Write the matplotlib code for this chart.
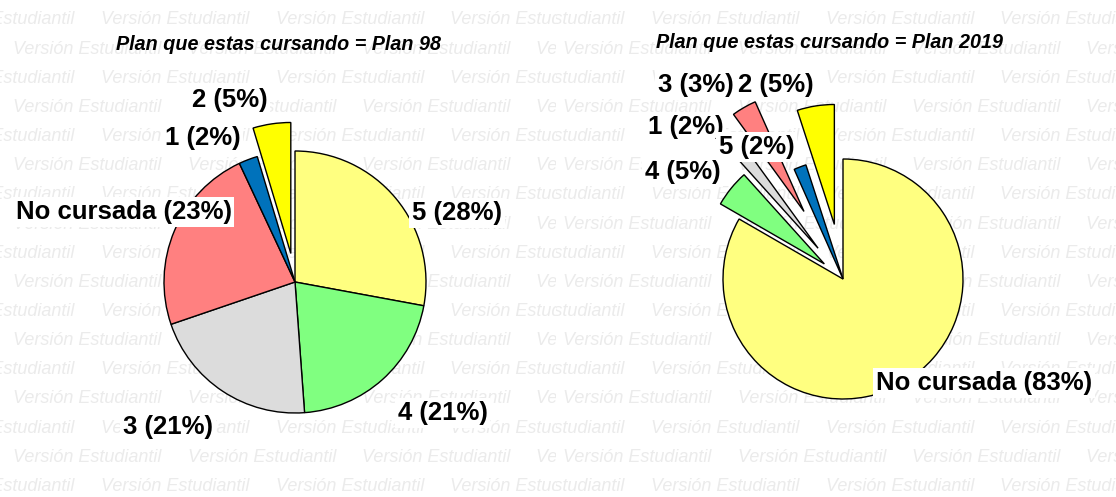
import matplotlib
matplotlib.use('Agg')
import matplotlib.pyplot as plt

plt.rcParams['font.family'] = ['Liberation Sans', 'DejaVu Sans']

W, H = 1116, 497

# --- data -------------------------------------------------------------
cats_98 = ['5', '4', '3', 'No cursada', '1', '2']
counts_98 = [12, 9, 9, 10, 1, 2]
explode_98 = [0, 0, 0, 0, 0, 0.22]

cats_19 = ['No cursada', '4', '5', '3', '1', '2']
counts_19 = [50, 3, 1, 2, 1, 3]
explode_19 = [0, 0.2, 0.33, 0.65, 0, 0.46]

slice_colors = ['#FFFF80', '#80FF80', '#DCDCDC', '#FF8080', '#0072BB', '#FFFF00']

# label centres, in pie radius units from the pie centre
lab_pos_98 = [(1.237, 0.527), (1.126, -1.0), (-0.969, -1.107),
              (-1.309, 0.534), (-0.702, 1.099), (-0.50, 1.389)]
lab_pos_19 = [(1.175, -0.867), (-1.3375, 0.892), (-0.721, 1.10),
              (-1.229, 1.617), (-1.3125, 1.267), (-0.5625, 1.617)]


def watermark(fig, x0, x1, offs_a, offs_b):
    ax = fig.add_axes([x0 / W, 0, (x1 - x0) / W, 1])
    ax.set_xlim(x0, x1)
    ax.set_ylim(H, 0)
    ax.axis('off')
    ax.set_zorder(0)
    step = 174.5
    for k in range(17):
        y = 20 + 29.15 * k
        start = offs_a if k % 2 == 0 else offs_b
        for j in range(-1, 4):
            ax.text(start + step * j, y, 'Versión Estudiantil', ha='left', va='center',
                    fontsize=13, style='italic', color='#EBEBEB', clip_on=True)


def pie_panel(fig, cx, cy, r, cats, counts, explode, lab_pos, title, tx, ty):
    lim = 1.8
    half = r * lim
    ax = fig.add_axes([(cx - half) / W, 1 - (cy + half) / H, 2 * half / W, 2 * half / H])
    ax.set_zorder(2)
    ax.patch.set_visible(False)
    ax.pie(counts, colors=slice_colors, startangle=90, counterclock=False,
           explode=explode, wedgeprops=dict(edgecolor='black', linewidth=1))
    ax.set_xlim(-lim, lim)
    ax.set_ylim(-lim, lim)
    ax.set_aspect('equal')
    ax.axis('off')
    n = sum(counts)
    items = list(zip(cats, counts, lab_pos))
    for c, v, (dx, dy) in items[::-1]:
        ax.text(dx, dy, f'{c} ({round(100 * v / n)}%)', ha='center', va='center',
                fontsize=18.5, fontweight='bold', zorder=5,
                bbox=dict(boxstyle='square,pad=0.1', fc='white', ec='none'))
    fig.text(tx / W, 1 - ty / H, title, ha='center', va='center', fontsize=14.2,
             fontweight='bold', style='italic', zorder=5)


fig = plt.figure(figsize=(W / 100, H / 100), dpi=100)
watermark(fig, 0, 556, 101, 13)
watermark(fig, 556, W, 651, 563)

pie_panel(fig, 295, 282, 131, cats_98, counts_98, explode_98, lab_pos_98,
          'Plan que estas cursando = Plan 98', 279, 45)
pie_panel(fig, 843, 279, 120, cats_19, counts_19, explode_19, lab_pos_19,
          'Plan que estas cursando = Plan 2019', 830, 42)

fig.savefig('out.png', dpi=100)
